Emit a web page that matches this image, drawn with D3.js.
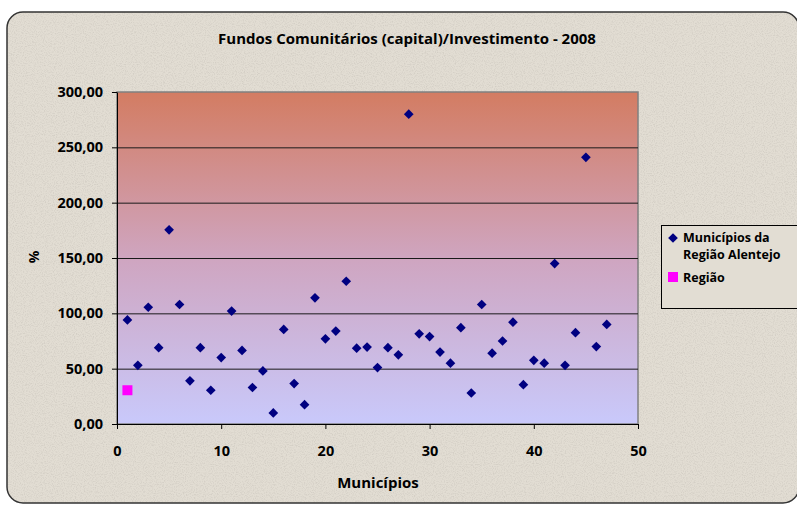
<!DOCTYPE html>
<html>
<head>
<meta charset="utf-8">
<script src="https://cdn.jsdelivr.net/npm/d3@7/dist/d3.min.js"></script>
<style>
  body { margin: 0; background: #fff; }
  svg { display: block; }
  text { font-family: "Open Sans", Lato, sans-serif; font-weight: bold; fill: #000; }
</style>
</head>
<body>
<svg id="chart" width="797" height="505"></svg>
<script>
// municipios da regiao alentejo (x = ordem, y = %)
const municipios = [1,2,3,4,5,6,7,8,9,10,11,12,13,14,15,16,17,18,19,20,21,22,23,24,
  25,26,27,28,29,30,31,32,33,34,35,36,37,38,39,40,41,42,43,44,45,46,47];
const valores = [94, 53, 105.5, 69, 175.5, 108, 39, 69, 30.5, 60, 102, 66.5, 33, 48,
  10, 85.5, 36.5, 17.5, 114, 77, 84, 129, 68.5, 69.5, 51, 69, 62.5, 280, 81.5, 79,
  65, 55, 87, 28, 108, 64, 75, 92, 35.5, 57.5, 55, 145, 53, 82.5, 241, 70, 90];
const regiaoX = [1];
const regiaoY = [30.5];
const yTicks = [0, 50, 100, 150, 200, 250, 300];
const xTicks = [0, 10, 20, 30, 40, 50];

const svg = d3.select("#chart");
const defs = svg.append("defs");

const grad = defs.append("linearGradient")
    .attr("id", "bg")
    .attr("x1", 0).attr("y1", 0).attr("x2", 0).attr("y2", 1);
grad.append("stop").attr("offset", "0%").attr("stop-color", "#d37c62");
grad.append("stop").attr("offset", "50%").attr("stop-color", "#cfa5c0");
grad.append("stop").attr("offset", "100%").attr("stop-color", "#c9c9fb");

// paper texture for the frame
const noise = defs.append("filter").attr("id", "paper")
    .attr("x", 0).attr("y", 0).attr("width", "100%").attr("height", "100%");
noise.append("feTurbulence")
    .attr("type", "fractalNoise").attr("baseFrequency", 0.9)
    .attr("numOctaves", 2).attr("seed", 3).attr("result", "n");
noise.append("feColorMatrix").attr("in", "n").attr("type", "matrix")
    .attr("values", "0 0 0 0 0.45  0 0 0 0 0.42  0 0 0 0 0.38  0 0 0 -2.2 1.25")
    .attr("result", "spots");
noise.append("feComposite").attr("in", "spots").attr("in2", "SourceGraphic").attr("operator", "in");

const frame = { x: 7, y: 12, w: 792, h: 491 };
svg.append("rect")
    .attr("x", frame.x).attr("y", frame.y)
    .attr("width", frame.w).attr("height", frame.h)
    .attr("rx", 16).attr("ry", 16)
    .attr("fill", "#e2ddd3");
svg.append("rect")
    .attr("x", frame.x).attr("y", frame.y)
    .attr("width", frame.w).attr("height", frame.h)
    .attr("rx", 16).attr("ry", 16)
    .attr("fill", "#e2ddd3")
    .attr("filter", "url(#paper)")
    .attr("opacity", 0.35);
svg.append("rect")
    .attr("x", frame.x).attr("y", frame.y)
    .attr("width", frame.w).attr("height", frame.h)
    .attr("rx", 16).attr("ry", 16)
    .attr("fill", "none")
    .attr("stroke", "#333")
    .attr("stroke-width", 1.5);

const margin = { left: 117, top: 92, right: 638, bottom: 424 };
const x = d3.scaleLinear().domain([0, 50]).range([margin.left, margin.right]);
const y = d3.scaleLinear().domain([0, 300]).range([margin.bottom, margin.top]);

// plot area
svg.append("rect")
    .attr("x", x(0)).attr("y", y(300))
    .attr("width", x(50) - x(0)).attr("height", y(0) - y(300))
    .attr("fill", "url(#bg)")
    .attr("stroke", "#808080")
    .attr("stroke-width", 1.5);

svg.append("g").selectAll("line")
    .data(yTicks.filter(d => d > 0 && d < 300))
    .join("line")
    .attr("x1", x(0)).attr("x2", x(50))
    .attr("y1", d => y(d) + 0.5).attr("y2", d => y(d) + 0.5)
    .attr("stroke", "#1a1a1a")
    .attr("stroke-width", 1);

const fmt = d => d3.format(".2f")(d).replace(".", ",");

const yAxis = svg.append("g")
    .attr("transform", `translate(${x(0)},0)`)
    .call(d3.axisLeft(y).tickValues(yTicks).tickFormat(fmt).tickSize(5).tickSizeOuter(0));
yAxis.selectAll("text").attr("font-size", 14.5).attr("dx", "-6");

const xAxis = svg.append("g")
    .attr("transform", `translate(0,${y(0)})`)
    .call(d3.axisBottom(x).tickValues(xTicks).tickSize(5).tickSizeOuter(0));
xAxis.selectAll("text").attr("font-size", 14.5).attr("dy", "1.65em");

svg.selectAll(".domain").attr("stroke", "#000");
svg.selectAll(".tick line").attr("stroke", "#000");

// points
const diamond = d3.symbol().type(d3.symbolDiamond2).size(60);
svg.append("g").selectAll("path")
    .data(municipios.map((m, i) => [m, valores[i]]))
    .join("path")
    .attr("transform", d => `translate(${x(d[0])},${y(d[1])})`)
    .attr("d", diamond)
    .attr("fill", "#000080");

svg.append("g").selectAll("rect")
    .data(regiaoX.map((m, i) => [m, regiaoY[i]]))
    .join("rect")
    .attr("x", d => x(d[0]) - 5).attr("y", d => y(d[1]) - 5)
    .attr("width", 10).attr("height", 10)
    .attr("fill", "#ff00ff");

// titles
svg.append("text")
    .attr("x", 407).attr("y", 44)
    .attr("text-anchor", "middle")
    .attr("font-size", 15)
    .text("Fundos Comunitários (capital)/Investimento - 2008");

svg.append("text")
    .attr("x", 378).attr("y", 488)
    .attr("text-anchor", "middle")
    .attr("font-size", 15)
    .text("Municípios");

svg.append("text")
    .attr("transform", "translate(39,257) rotate(-90)")
    .attr("text-anchor", "middle")
    .attr("font-size", 14)
    .text("%");

// legend
const lg = svg.append("g");
lg.append("rect")
    .attr("x", 661.5).attr("y", 225.5)
    .attr("width", 160).attr("height", 83)
    .attr("fill", "#e2ddd3")
    .attr("stroke", "#000");
lg.append("path")
    .attr("transform", "translate(673,238)")
    .attr("d", diamond)
    .attr("fill", "#000080");
lg.append("text").attr("x", 683).attr("y", 242).attr("font-size", 12.5).text("Municípios da");
lg.append("text").attr("x", 683).attr("y", 259).attr("font-size", 12.5).text("Região Alentejo");
lg.append("rect")
    .attr("x", 668).attr("y", 272).attr("width", 10).attr("height", 10)
    .attr("fill", "#ff00ff");
lg.append("text").attr("x", 683).attr("y", 282).attr("font-size", 12.5).text("Região");
</script>
</body>
</html>
